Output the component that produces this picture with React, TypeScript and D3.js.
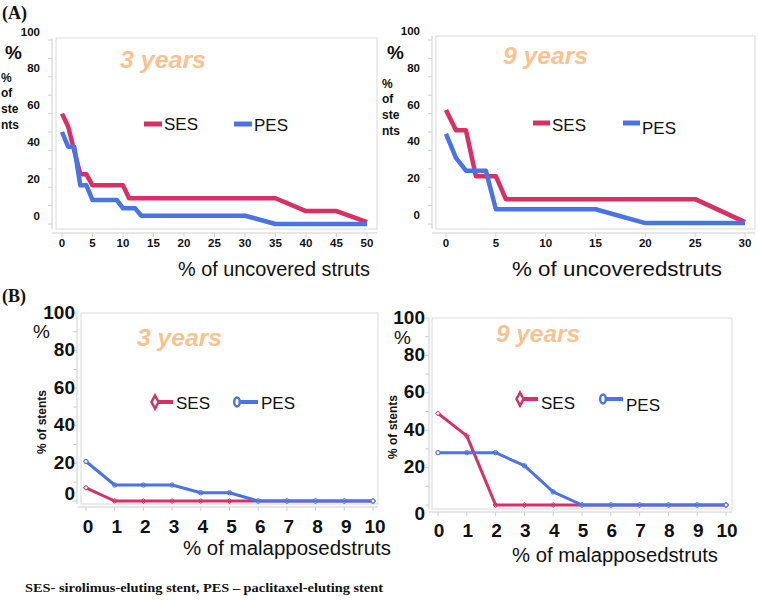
import React from 'react';
import * as d3 from 'd3';

const SES_COLOR = '#d63064';
const PES_COLOR = '#4a74e6';
const YEAR_COLOR = '#f8c291';
const FRAME = '#d9d9d9';
const AXIS = '#cfcfcf';

// (A) % of uncovered struts, 3 years
const a3SesX = [0, 1, 3, 4, 5, 10, 11, 35, 40, 45, 50];
const a3SesY = [60, 53, 27, 27, 21, 21, 14, 14, 7, 7, 1];
const a3PesX = [0, 1, 2, 3, 4, 5, 9, 10, 12, 13, 30, 35, 50];
const a3PesY = [50, 42, 42, 21, 21, 13, 13, 8.5, 8.5, 4.5, 4.5, 0, 0];
// (A) % of uncovered struts, 9 years
const a9SesX = [0, 1, 2, 3, 5, 6, 25, 30];
const a9SesY = [62, 51, 51, 26, 26, 13.5, 13.5, 1];
const a9PesX = [0, 1, 2, 4, 5, 15, 20, 30];
const a9PesY = [49, 36, 29, 29, 8, 8, 0.5, 0.5];
// (B) % of malapposed struts
const malX = [0, 1, 2, 3, 4, 5, 6, 7, 8, 9, 10];
const b3Ses = [7, 0, 0, 0, 0, 0, 0, 0, 0, 0, 0];
const b3Pes = [21, 8.5, 8.5, 8.5, 4.4, 4.4, 0, 0, 0, 0, 0];
const b9Ses = [49, 37, 0, 0, 0, 0, 0, 0, 0, 0, 0];
const b9Pes = [28, 28, 28, 21, 7, 0, 0, 0, 0, 0, 0];

const ticks3 = [0, 5, 10, 15, 20, 25, 30, 35, 40, 45, 50];
const ticks9 = [0, 5, 10, 15, 20, 25, 30];
const yLabels = [0, 20, 40, 60, 80, 100];
const yMinor = [0, 10, 20, 30, 40, 50, 60, 70, 80, 90, 100];

const SANS = '"Liberation Sans", Arial, sans-serif';
const SERIF = '"Liberation Serif", "Times New Roman", serif';

type Series = { xs: number[]; ys: number[]; color: string; marker?: 'diamond' | 'circle' };

type Cfg = {
  box: [number, number, number, number];
  xDom: [number, number];
  xRange: [number, number];
  yRange: [number, number];
  yAxisX: number;
  xAxisY: number;
  xTicks: number[];
  xTickY: number;
  xTickSize: number;
  xTickDx: number;
  yLabelX: number;
  yLabelSize: number;
  yLabelShift: number;
  zeroShift: number;
  lineW: number;
  series: Series[];
};

function diamond(cx: number, cy: number, w: number, h: number) {
  return `M${cx},${cy - h}L${cx + w},${cy}L${cx},${cy + h}L${cx - w},${cy}Z`;
}

function Panel({ cfg }: { cfg: Cfg }) {
  const x = d3.scaleLinear().domain(cfg.xDom).range(cfg.xRange);
  const y = d3.scaleLinear().domain([0, 100]).range(cfg.yRange);
  const [bx0, bx1, by0, by1] = cfg.box;
  const line = d3
    .line<[number, number]>()
    .x((d) => x(d[0]))
    .y((d) => y(d[1]));
  return (
    <g>
      <rect x={bx0} y={by0} width={bx1 - bx0} height={by1 - by0} fill="#fff" stroke={FRAME} strokeWidth={1} />
      <line x1={cfg.yAxisX} x2={cfg.yAxisX} y1={by0} y2={by1} stroke={AXIS} />
      {yMinor.map((v) => (
        <line key={'ym' + v} x1={cfg.yAxisX - 4} x2={cfg.yAxisX} y1={y(v)} y2={y(v)} stroke={AXIS} />
      ))}
      <line x1={cfg.yAxisX} x2={bx1} y1={cfg.xAxisY} y2={cfg.xAxisY} stroke={AXIS} />
      {cfg.xTicks.map((v) => (
        <line key={'xt' + v} x1={x(v)} x2={x(v)} y1={cfg.xAxisY} y2={cfg.xAxisY + 4} stroke={AXIS} />
      ))}
      {cfg.xTicks.map((v) => (
        <text
          key={'xl' + v}
          x={x(v) + cfg.xTickDx}
          y={cfg.xTickY}
          textAnchor="middle"
          dominantBaseline="central"
          fontFamily={SANS}
          fontWeight="bold"
          fontSize={cfg.xTickSize}
          fill="#111"
        >
          {v}
        </text>
      ))}
      {yLabels.map((v) => (
        <text
          key={'yl' + v}
          x={cfg.yLabelX}
          y={y(v) + cfg.yLabelShift + (v === 0 ? cfg.zeroShift : 0)}
          textAnchor="end"
          dominantBaseline="central"
          fontFamily={SANS}
          fontWeight="bold"
          fontSize={cfg.yLabelSize}
          fill="#111"
        >
          {v}
        </text>
      ))}
      {cfg.series.map((s, i) => {
        const pts = s.xs.map((xv, j) => [xv, s.ys[j]] as [number, number]);
        return (
          <g key={'s' + i}>
            {s.marker &&
              pts.map((p, j) =>
                s.marker === 'diamond' ? (
                  <path key={j} d={diamond(x(p[0]), y(p[1]), 2.5, 2.5)} fill="#fff" stroke={s.color} strokeWidth={1} />
                ) : (
                  <circle key={j} cx={x(p[0])} cy={y(p[1])} r={2.2} fill="#fff" stroke={s.color} strokeWidth={1} />
                )
              )}
            <path d={line(pts) || ''} fill="none" stroke={s.color} strokeWidth={cfg.lineW} strokeLinejoin="round" />
            {s.marker &&
              [pts[0], pts[pts.length - 1]].map((p, j) =>
                s.marker === 'diamond' ? (
                  <path key={'e' + j} d={diamond(x(p[0]), y(p[1]), 2.2, 2.2)} fill="#fff" stroke={s.color} strokeWidth={0.8} />
                ) : (
                  <circle key={'e' + j} cx={x(p[0])} cy={y(p[1])} r={1.8} fill="#fff" stroke={s.color} strokeWidth={0.8} />
                )
              )}
          </g>
        );
      })}
    </g>
  );
}

function StackedLabel({ x, ys }: { x: number; ys: number[] }) {
  const words = ['%', 'of', 'ste', 'nts'];
  return (
    <g>
      {words.map((w, i) => (
        <text key={w} x={x} y={ys[i]} dominantBaseline="central" fontFamily={SANS} fontWeight="bold" fontSize={12} fill="#111">
          {w}
        </text>
      ))}
    </g>
  );
}

function YearTitle({ x, y, text, w }: { x: number; y: number; text: string; w: number }) {
  return (
    <text x={x} y={y} fontFamily={SANS} fontWeight="bold" fontStyle="italic" fontSize={23} fill={YEAR_COLOR} textLength={w} lengthAdjust="spacingAndGlyphs">
      {text}
    </text>
  );
}

function LegendA({ x1, x2, y, text, color, ty }: { x1: number; x2: number; y: number; text: string; color: string; ty: number }) {
  return (
    <g>
      <line x1={x1} x2={x2} y1={y} y2={y} stroke={color} strokeWidth={5} />
      <text x={x2 + 2} y={ty} dominantBaseline="central" fontFamily={SANS} fontSize={17} fill="#111">
        {text}
      </text>
    </g>
  );
}

function LegendB({ x1, x2, y, text, color, ty, marker }: { x1: number; x2: number; y: number; text: string; color: string; ty: number; marker: 'diamond' | 'circle' }) {
  return (
    <g>
      <line x1={x1} x2={x2} y1={y} y2={y} stroke={color} strokeWidth={4} />
      {marker === 'diamond' ? (
        <path d={diamond(x1, y, 3.5, 6.5)} fill="#fff" stroke={color} strokeWidth={2.5} />
      ) : (
        <ellipse cx={x1} cy={y} rx={2.8} ry={4.5} fill="#fff" stroke={color} strokeWidth={2.5} />
      )}
      <text x={x2 + 3} y={ty} dominantBaseline="central" fontFamily={SANS} fontSize={17} fill="#111">
        {text}
      </text>
    </g>
  );
}

export default function App() {
  const a1: Cfg = {
    box: [56, 377, 38, 229],
    xDom: [0, 50],
    xRange: [62, 367],
    yRange: [224, 40],
    yAxisX: 52,
    xAxisY: 233,
    xTicks: ticks3,
    xTickY: 243,
    xTickSize: 11.5,
    xTickDx: 0,
    yLabelX: 40,
    yLabelSize: 11.5,
    yLabelShift: -8.5,
    zeroShift: 0,
    lineW: 4.5,
    series: [
      { xs: a3SesX, ys: a3SesY, color: SES_COLOR },
      { xs: a3PesX, ys: a3PesY, color: PES_COLOR },
    ],
  };
  const a2: Cfg = {
    box: [436, 755, 36, 229],
    xDom: [0, 30],
    xRange: [446, 745],
    yRange: [224, 40],
    yAxisX: 432,
    xAxisY: 233,
    xTicks: ticks9,
    xTickY: 243,
    xTickSize: 11.5,
    xTickDx: 0,
    yLabelX: 420,
    yLabelSize: 11.5,
    yLabelShift: -9,
    zeroShift: 0,
    lineW: 4.5,
    series: [
      { xs: a9SesX, ys: a9SesY, color: SES_COLOR },
      { xs: a9PesX, ys: a9PesY, color: PES_COLOR },
    ],
  };
  const b1: Cfg = {
    box: [81, 378, 313, 504],
    xDom: [0, 10],
    xRange: [86, 373],
    yRange: [501, 313],
    yAxisX: 77,
    xAxisY: 507,
    xTicks: malX,
    xTickY: 526,
    xTickSize: 19,
    xTickDx: 2,
    yLabelX: 75,
    yLabelSize: 19,
    yLabelShift: -1,
    zeroShift: -7,
    lineW: 3,
    series: [
      { xs: malX, ys: b3Ses, color: SES_COLOR, marker: 'diamond' },
      { xs: malX, ys: b3Pes, color: PES_COLOR, marker: 'circle' },
    ],
  };
  const b2: Cfg = {
    box: [432, 732, 318, 509],
    xDom: [0, 10],
    xRange: [438, 726],
    yRange: [505, 318],
    yAxisX: 429,
    xAxisY: 512,
    xTicks: malX,
    xTickY: 530,
    xTickSize: 19,
    xTickDx: 1,
    yLabelX: 425,
    yLabelSize: 19,
    yLabelShift: -1,
    zeroShift: 9,
    lineW: 3,
    series: [
      { xs: malX, ys: b9Ses, color: SES_COLOR, marker: 'diamond' },
      { xs: malX, ys: b9Pes, color: PES_COLOR, marker: 'circle' },
    ],
  };

  return (
    <svg width={758} height={601} style={{ position: 'absolute', left: 0, top: 0, background: '#fff' }}>
      <rect x={0} y={0} width={758} height={601} fill="#fff" />
      <text x={2} y={19} fontFamily={SERIF} fontWeight="bold" fontSize={18} fill="#111">(A)</text>
      <text x={2} y={302} fontFamily={SERIF} fontWeight="bold" fontSize={18} fill="#111">(B)</text>

      {/* Panel A1 */}
      <Panel cfg={a1} />
      <text x={5} y={52} dominantBaseline="central" fontFamily={SANS} fontWeight="bold" fontSize={19} fill="#111">%</text>
      <StackedLabel x={1} ys={[78, 93, 109, 125]} />
      <YearTitle x={120} y={68} text="3 years" w={86} />
      <LegendA x1={144} x2={162} y={124} ty={124} text="SES" color={SES_COLOR} />
      <LegendA x1={234} x2={252} y={124} ty={125} text="PES" color={PES_COLOR} />
      <text x={178} y={268} dominantBaseline="central" fontFamily={SANS} fontSize={21} fill="#111" textLength={192} lengthAdjust="spacingAndGlyphs">% of uncovered struts</text>

      {/* Panel A2 */}
      <Panel cfg={a2} />
      <text x={387} y={52} dominantBaseline="central" fontFamily={SANS} fontWeight="bold" fontSize={19} fill="#111">%</text>
      <StackedLabel x={382} ys={[84, 99, 115, 131]} />
      <YearTitle x={503} y={64} text="9 years" w={85} />
      <LegendA x1={533} x2={550} y={123} ty={125} text="SES" color={SES_COLOR} />
      <LegendA x1={623} x2={640} y={123} ty={128} text="PES" color={PES_COLOR} />
      <text x={512} y={268} dominantBaseline="central" fontFamily={SANS} fontSize={21} fill="#111" textLength={210} lengthAdjust="spacingAndGlyphs">% of uncoveredstruts</text>

      {/* Panel B1 */}
      <Panel cfg={b1} />
      <text x={33} y={331} dominantBaseline="central" fontFamily={SANS} fontSize={19} fill="#111">%</text>
      <text transform="translate(42,422) rotate(-90)" textAnchor="middle" dominantBaseline="central" fontFamily={SANS} fontWeight="bold" fontSize={12} fill="#111">% of stents</text>
      <YearTitle x={137} y={346} text="3 years" w={85} />
      <LegendB x1={155} x2={173} y={402} ty={403} text="SES" color={SES_COLOR} marker="diamond" />
      <LegendB x1={237} x2={258} y={402} ty={403} text="PES" color={PES_COLOR} marker="circle" />
      <text x={183} y={548} dominantBaseline="central" fontFamily={SANS} fontSize={20} fill="#111" textLength={208} lengthAdjust="spacingAndGlyphs">% of malapposedstruts</text>

      {/* Panel B2 */}
      <Panel cfg={b2} />
      <text x={394} y={337} dominantBaseline="central" fontFamily={SANS} fontSize={19} fill="#111">%</text>
      <text transform="translate(393,427) rotate(-90)" textAnchor="middle" dominantBaseline="central" fontFamily={SANS} fontWeight="bold" fontSize={12} fill="#111">% of stents</text>
      <YearTitle x={496} y={342} text="9 years" w={84} />
      <LegendB x1={520} x2={538} y={399} ty={403} text="SES" color={SES_COLOR} marker="diamond" />
      <LegendB x1={603} x2={623} y={399} ty={405} text="PES" color={PES_COLOR} marker="circle" />
      <text x={512} y={555} dominantBaseline="central" fontFamily={SANS} fontSize={20} fill="#111" textLength={206} lengthAdjust="spacingAndGlyphs">% of malapposedstruts</text>

      <text x={25} y={587} dominantBaseline="central" fontFamily={SERIF} fontWeight="bold" fontSize={13} fill="#111" textLength={358} lengthAdjust="spacingAndGlyphs">SES- sirolimus-eluting stent, PES – paclitaxel-eluting stent</text>
    </svg>
  );
}
